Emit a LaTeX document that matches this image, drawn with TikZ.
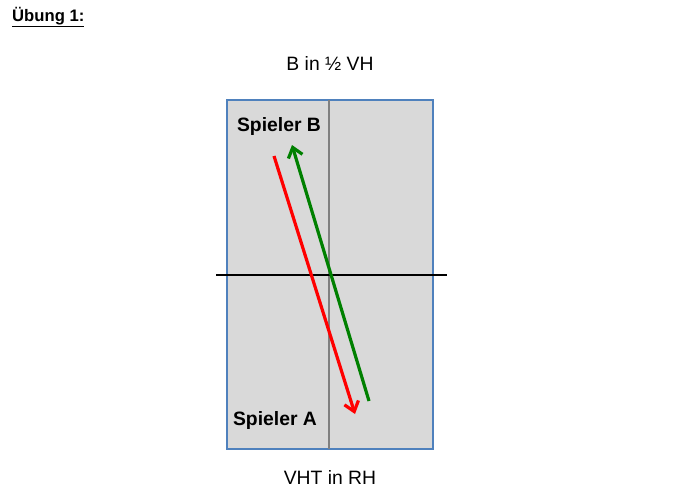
\documentclass[tikz,border=0pt]{standalone}
\usepackage{fontspec}
\setmainfont{Liberation Sans}
\usepackage{xcolor}
\usetikzlibrary{arrows.meta}

\definecolor{feld}{RGB}{217,217,217}
\definecolor{rand}{RGB}{79,129,189}
\definecolor{pass}{RGB}{0,128,0}

\tikzset{
  spieler/.style={font=\fontsize{14.5}{17}\selectfont\bfseries},
  beschr/.style={font=\fontsize{14.5}{17}\selectfont},
  ballweg/.style={line width=2.4pt,-{Straight Barb[length=7pt,width=11pt,line width=2.4pt]}}
}

\begin{document}
\begin{tikzpicture}[x=0.75pt,y=0.75pt,yscale=-1,xscale=1]
\useasboundingbox (0,0) rectangle (697,500);

%Shape: Rectangle [id:feld]
\draw [color=rand, fill=feld, line width=1.5pt] (227,100) -- (433,100) -- (433,449) -- (227,449) -- cycle ;
%Straight Lines [id:mitte]
\draw [color=gray, line width=1.2pt] (329,100) -- (329,449) ;
%Straight Lines [id:netz]
\draw [line width=1.5pt] (216,275) -- (447,275) ;

% Coordinates
\coordinate (redA) at (274,156);
\coordinate (redB) at (355,414);
\coordinate (greenA) at (369,401);
\coordinate (greenB) at (292,145);

%Straight Lines [id:rot]
\draw [ballweg, color=red] (redA) -- (redB) ;
%Straight Lines [id:gruen]
\draw [ballweg, color=pass] (greenA) -- (greenB) ;

% Text Node
\draw (7.5,17) node (titel) [anchor=west, font=\fontsize{12.5}{15}\selectfont\bfseries] {\underline{Übung 1:}};
% Text Node
\draw (330,63) node (oben) [beschr] {B in ½ VH};
% Text Node
\draw (330,477) node (unten) [beschr] {VHT in RH};
% Text Node
\draw (279,126) node (spB) [spieler] {Spieler B};
% Text Node
\draw (275,420) node (spA) [spieler] {Spieler A};

\end{tikzpicture}
\end{document}
